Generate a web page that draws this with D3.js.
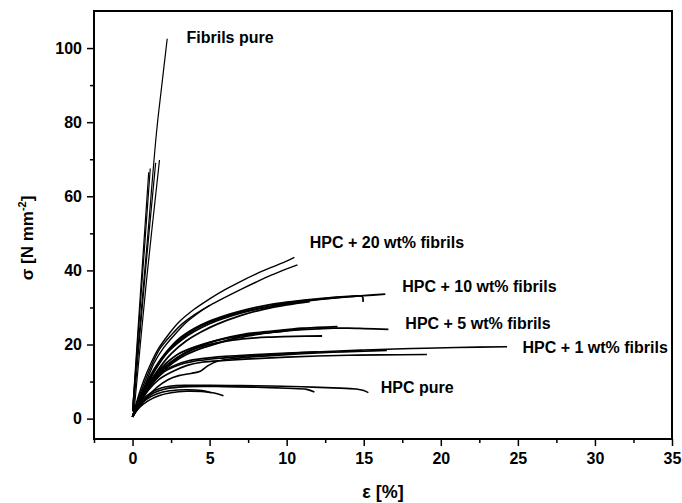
<!DOCTYPE html>
<html><head><meta charset="utf-8">
<script src="https://cdn.jsdelivr.net/npm/d3@7"></script>
<style>
html,body{margin:0;padding:0;background:#fff;}
text{font-family:"Liberation Sans",Arial,Helvetica,sans-serif;font-weight:bold;fill:#000;}
</style></head>
<body><svg id="chart" width="682" height="503"></svg>
<script>
// ---- data ----
const xTicks = [0, 5, 10, 15, 20, 25, 30, 35];
const yTicks = [0, 20, 40, 60, 80, 100];
const xMinor = [-2.5, 2.5, 7.5, 12.5, 17.5, 22.5, 27.5, 32.5];
const yMinor = [10, 30, 50, 70, 90];

const fibrilsPure = [
  [[0,2.5],[0.5,26],[1.0,50],[1.55,77],[1.9,90],[2.25,102.5]],
  [[0,2],[0.5,33],[1.05,66.5]],
  [[0,2],[0.6,36],[1.15,67.5]],
  [[0.05,2],[0.8,38],[1.5,69]],
  [[0.1,2],[0.9,37],[1.75,69.8]]
];
const hpc20 = [
  [[0,0.5],[0.3,5],[0.7,10],[1.2,15],[1.7,19],[2.3,22.5],[3,26],[4,29.5],[5,32.3],[6,34.8],[7,37],[8,39],[9,40.8],[10,42.5],[10.5,43.5]],
  [[0,0.5],[0.35,5],[0.8,10],[1.3,15],[1.8,19],[2.5,22.5],[3.2,25.5],[4,28],[5,30.5],[6,32.7],[7,34.8],[8,36.8],[9,38.7],[10,40.4],[10.7,41.5]],
  [[0,0.5],[0.4,5],[0.9,10],[1.4,15],[2,19],[2.7,22.5],[3.5,26],[4.5,29.2],[5,30.6]]
];
const hpc10 = [
  [[0,0.5],[0.4,5],[0.9,9.5],[1.5,14],[2.2,18],[3,21.5],[4,24.3],[5,26.3],[6,27.8],[7,29],[8,30],[9,30.8],[10,31.4],[11,31.9],[12,32.3],[13,32.7],[14,33],[15,33.2],[16.4,33.6]],
  [[0,0.5],[0.45,5],[1,9.5],[1.6,14],[2.3,18],[3.2,21.3],[4,23.5],[5,25.6],[6,27.2],[7,28.5],[8,29.5],[9,30.3],[10,31],[11,31.6],[12,32.1],[13,32.5],[14.3,32.9],[14.9,33],[14.95,31.5]],
  [[0,0.5],[0.5,5],[1.1,9.5],[1.8,14],[2.5,17.5],[3.5,21],[4.5,23.5],[5.5,25.5],[7,27.8],[8.5,29.5],[10,30.7],[11.5,31.6]],
  [[0,0.5],[0.42,5],[0.95,9.5],[1.55,14],[2.25,18],[3.1,21.4],[4,24],[5,26],[6,27.5],[7,28.7],[8.5,30],[10,31.2],[12,32.2],[13.5,32.8]]
];
const hpc5 = [
  [[0,0.5],[0.4,4.5],[0.9,8.5],[1.5,12],[2.2,15],[3,17.5],[4,19.3],[5,20.6],[6,21.6],[7,22.3],[8,22.9],[9,23.3],[10,23.7],[11,24],[12,24.2],[13,24.4],[14,24.4],[15,24.3],[16.6,24.1]],
  [[0,0.5],[0.45,4.5],[1,8.5],[1.6,12],[2.4,15],[3.3,17.5],[4.3,19.2],[5.3,20.3],[6.5,21.2],[8,21.8],[9,22],[10.5,22.2],[12.3,22.3]],
  [[0,0.5],[0.5,4.5],[1.1,8.5],[1.8,12],[2.6,15],[3.5,17.3],[4.5,19],[5.5,20.3],[6.5,21.5],[7.5,22.3],[8.5,23],[9.5,23.5],[10.5,24],[11,24.2]],
  [[0,0.5],[0.45,4.5],[1.05,8.5],[1.7,12],[2.5,15],[3.4,17.6],[4.5,19.8],[5.5,21.2],[7,22.6],[8.5,23.4],[10,24],[11,24.4],[12,24.6],[13.3,24.8]]
];
const hpc1 = [
  [[0,0.5],[0.4,4],[0.9,7.5],[1.5,10.5],[2.2,13],[3,14.5],[4,15.5],[5,16],[6,16.4],[7,16.8],[9,17.3],[11,17.8],[13,18.2],[15,18.5],[17,18.8],[19,19],[21,19.2],[24.3,19.4]],
  [[0,0.5],[0.45,4],[1,7.5],[1.7,10.5],[2.5,12.5],[3.5,14.3],[4.5,15.2],[6,15.7],[8,16.2],[10,16.6],[12,16.9],[14,17.1],[16,17.2],[19.1,17.3]],
  [[0,0.5],[0.5,3.5],[1,6],[1.6,8.5],[2.3,10.5],[3,11.6],[3.8,12.2],[4.4,12.8],[4.9,14.3],[5.5,15.5],[7,16.4],[9,17],[11,17.5],[13,17.9],[15,18.2],[16.5,18.4]],
  [[0,0.5],[0.4,4],[0.9,7.5],[1.4,10.5],[2,12.8],[2.8,14.5],[3.5,15.5],[4.5,16.2],[6,16.8],[8,17.3],[10,17.7],[12,18]]
];
const hpcPure = [
  [[0,0.5],[0.3,3],[0.7,5.3],[1.2,7],[1.8,8.2],[2.5,8.8],[3.5,9],[5,9],[7,8.9],[9,8.8],[11,8.6],[13,8.3],[14.5,8],[15,7.6],[15.3,7]],
  [[0,0.5],[0.35,3],[0.8,5.3],[1.4,7],[2.1,8],[3,8.5],[4.5,8.7],[6,8.6],[8,8.5],[10,8.2],[11.3,7.9],[11.8,7.2]],
  [[0,0.5],[0.4,2.8],[1,4.8],[1.7,6.2],[2.5,7],[3.5,7.4],[4.5,7.3],[5.3,6.9],[5.9,6.2]],
  [[0,0.5],[0.35,3],[0.9,5.2],[1.6,6.7],[2.4,7.5],[3.5,7.8],[4.5,7.6],[5.1,7]]
];
const labels = [
  {text:"Fibrils pure", x:3.5, y:101.3},
  {text:"HPC + 20 wt% fibrils", x:11.5, y:46},
  {text:"HPC + 10 wt% fibrils", x:17.5, y:34.2},
  {text:"HPC + 5 wt% fibrils", x:17.7, y:24.3},
  {text:"HPC + 1 wt% fibrils", x:25.3, y:17.6},
  {text:"HPC pure", x:16.1, y:6.9}
];

// ---- chart ----
const svg = d3.select("#chart");
const L = 94, R = 672, T = 11, B = 439;
const x = d3.scaleLinear().domain([-2.5, 35]).range([L, R]);
const y = d3.scaleLinear().domain([-5.5, 110]).range([B, T]);

// minor ticks
const gx = svg.append("g").attr("transform", `translate(0,${B})`);
gx.call(d3.axisBottom(x).tickValues(xMinor).tickSize(4).tickFormat(""));
const gx2 = svg.append("g").attr("transform", `translate(0,${B})`);
gx2.call(d3.axisBottom(x).tickValues(xTicks).tickSize(7).tickPadding(7).tickFormat(d3.format("d")));
const gy = svg.append("g").attr("transform", `translate(${L},0)`);
gy.call(d3.axisLeft(y).tickValues(yMinor).tickSize(4).tickFormat(""));
const gy2 = svg.append("g").attr("transform", `translate(${L},0)`);
gy2.call(d3.axisLeft(y).tickValues(yTicks).tickSize(7).tickPadding(5).tickFormat(d3.format("d")));
svg.selectAll(".domain").remove();
svg.selectAll(".tick line").attr("stroke", "#000").attr("stroke-width", 1.5);
svg.selectAll(".tick text").style("font-size", "16px").attr("fill", "#000");

// frame
svg.append("rect").attr("x", L).attr("y", T).attr("width", R - L).attr("height", B - T)
  .attr("fill", "none").attr("stroke", "#000").attr("stroke-width", 2);

// curves
const line = d3.line().x(d => x(d[0])).y(d => y(d[1])).curve(d3.curveCatmullRom.alpha(0.5));
const groups = [fibrilsPure, hpc20, hpc10, hpc5, hpc1, hpcPure];
const widths = [1.2, 1.4, 1.8, 1.8, 1.6, 1.6];
groups.forEach((g, i) => {
  svg.append("g").selectAll("path").data(g).join("path")
    .attr("d", line).attr("fill", "none").attr("stroke", "#000")
    .attr("stroke-width", widths[i]).attr("stroke-linejoin", "round");
});

// labels
svg.append("g").selectAll("text").data(labels).join("text")
  .attr("x", d => x(d.x)).attr("y", d => y(d.y))
  .style("font-size", "16px")
  .text(d => d.text);

// axis titles
svg.append("text").attr("x", 383).attr("y", 498).attr("text-anchor", "middle")
  .style("font-size", "18px").text("ε [%]");
const yt = svg.append("text").attr("transform", "translate(33,238) rotate(-90)")
  .attr("text-anchor", "middle").style("font-size", "17px");
yt.append("tspan").text("σ [N mm");
yt.append("tspan").attr("dy", -7).style("font-size", "11px").text("-2");
yt.append("tspan").attr("dy", 7).text("]");
</script></body></html>
